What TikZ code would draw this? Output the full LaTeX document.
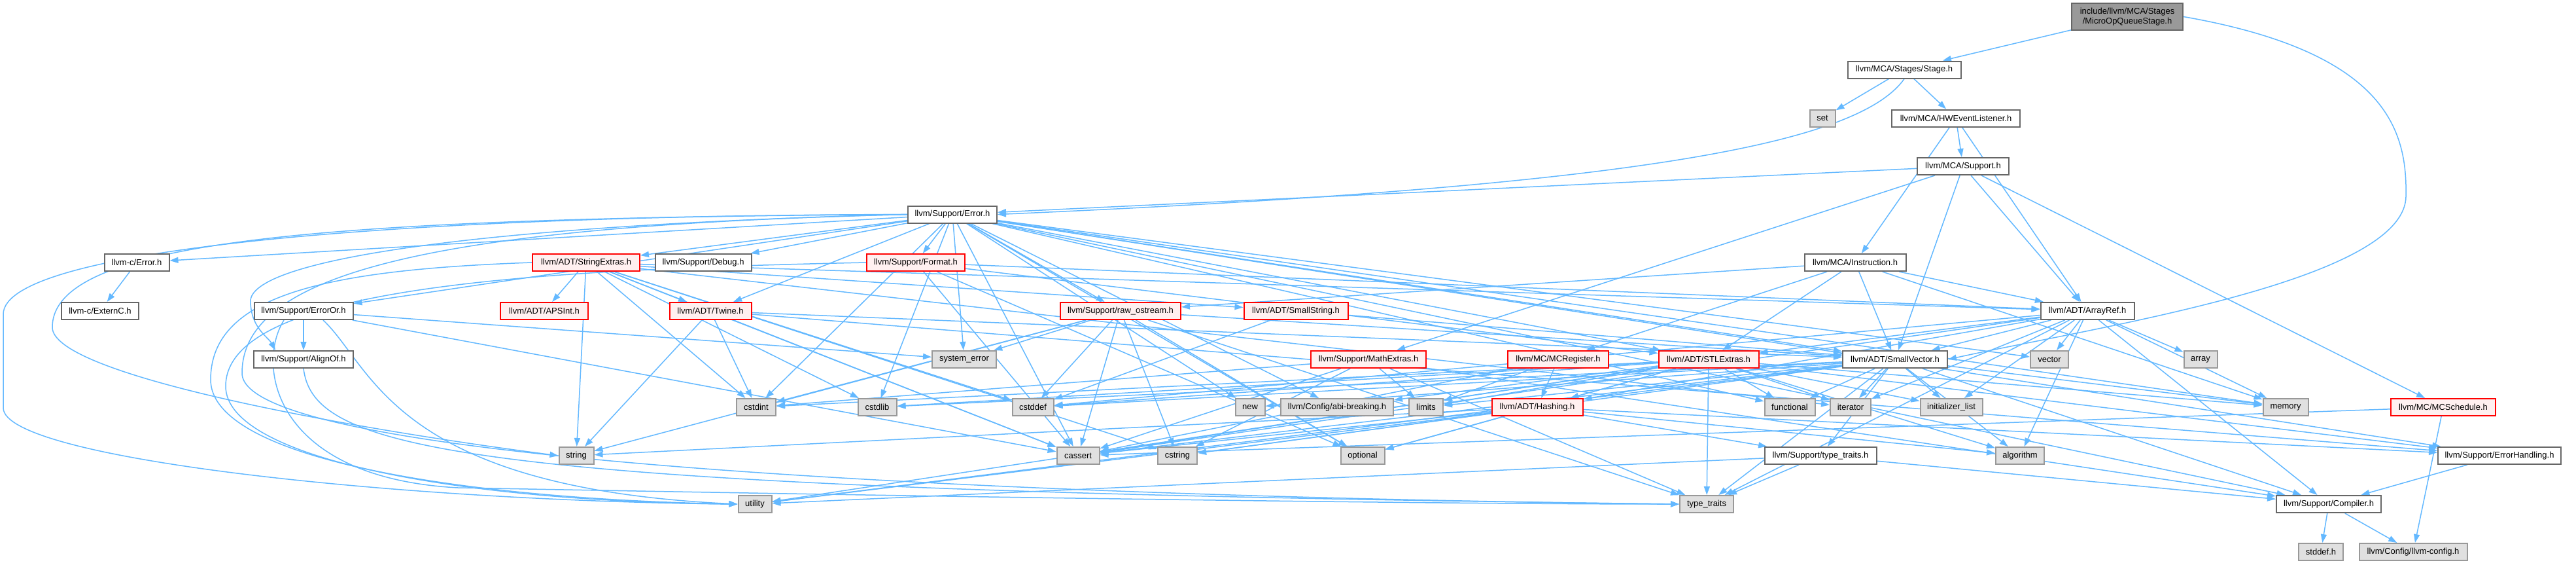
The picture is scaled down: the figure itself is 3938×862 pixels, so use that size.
\documentclass[tikz,border=0pt]{standalone}
\usepackage{fontspec}
\setmainfont{Liberation Sans}
\usetikzlibrary{arrows.meta,calc}
\definecolor{edgec}{HTML}{63B8FF}
\definecolor{nborder}{HTML}{666666}
\definecolor{extfill}{HTML}{E0E0E0}
\definecolor{extborder}{HTML}{999999}
\definecolor{redfill}{HTML}{FFF0F0}
\definecolor{rootfill}{HTML}{999999}
\pgfdeclarelayer{bg}
\pgfsetlayers{bg,main}
\tikzset{
 base/.style={draw, line width=1pt, inner sep=0pt, minimum height=13pt, font=\fontsize{6.5}{7.6}\selectfont, text=black},
 doc/.style={base, draw=nborder, fill=white},
 ext/.style={base, draw=extborder, fill=extfill},
 trunc/.style={base, draw=red, fill=redfill},
 rootn/.style={base, draw=nborder, fill=rootfill, minimum height=20.5pt, align=center},
 e/.style={draw=edgec, line width=0.75pt, -{Triangle[length=6.5pt,width=4.5pt]}},
}
\begin{document}
\begin{tikzpicture}[x=0.5pt,y=-0.5pt]
\useasboundingbox (0,0) rectangle (3938,862);
\node[rootn, minimum width=85pt] (root) at (3252,25.5) {include/llvm/MCA/Stages\\/MicroOpQueueStage.h};
\node[doc, minimum width=86.5pt] (stage) at (2911,106.5) {llvm/MCA/Stages/Stage.h};
\node[ext, minimum width=19.5pt] (set) at (2786,180.5) {set};
\node[doc, minimum width=98pt] (hwe) at (2990,180.5) {llvm/MCA/HWEventListener.h};
\node[doc, minimum width=70pt] (mcasup) at (3001,254) {llvm/MCA/Support.h};
\node[doc, minimum width=68pt] (err) at (1456,327.5) {llvm/Support/Error.h};
\node[doc, minimum width=49.5pt] (cerr) at (209,401) {llvm-c/Error.h};
\node[doc, minimum width=59pt] (cext) at (153,475) {llvm-c/ExternC.h};
\node[trunc, minimum width=82pt] (strx) at (896,401) {llvm/ADT/StringExtras.h};
\node[doc, minimum width=75.5pt] (erroror) at (464,475) {llvm/Support/ErrorOr.h};
\node[trunc, minimum width=67pt] (apsint) at (832,475) {llvm/ADT/APSInt.h};
\node[doc, minimum width=76pt] (alignof) at (464,549) {llvm/Support/AlignOf.h};
\node[ext, minimum width=26.5pt] (string) at (881,696) {string};
\node[doc, minimum width=73.5pt] (debug) at (1075,401) {llvm/Support/Debug.h};
\node[trunc, minimum width=75pt] (format) at (1400,401) {llvm/Support/Format.h};
\node[trunc, minimum width=62.5pt] (twine) at (1086,475) {llvm/ADT/Twine.h};
\node[trunc, minimum width=92pt] (rawos) at (1713,475) {llvm/Support/raw\_ostream.h};
\node[trunc, minimum width=79.5pt] (smallstr) at (1981,475) {llvm/ADT/SmallString.h};
\node[ext, minimum width=49pt] (syserr) at (1474,549) {system\_error};
\node[ext, minimum width=30pt] (cstdint) at (1156,622) {cstdint};
\node[ext, minimum width=29.5pt] (cstdlib) at (1341,622) {cstdlib};
\node[ext, minimum width=31.5pt] (cstddef) at (1579,622) {cstddef};
\node[ext, minimum width=22.5pt] (new) at (1911,622) {new};
\node[ext, minimum width=86pt] (abi) at (2044,622) {llvm/Config/abi-breaking.h};
\node[ext, minimum width=32.5pt] (cassert) at (1648,696) {cassert};
\node[ext, minimum width=30pt] (cstring) at (1800,696) {cstring};
\node[ext, minimum width=25.5pt] (utility) at (1154,770) {utility};
\node[doc, minimum width=77.5pt] (instr) at (2836,401) {llvm/MCA/Instruction.h};
\node[trunc, minimum width=88pt] (mathx) at (2092,549) {llvm/Support/MathExtras.h};
\node[trunc, minimum width=77pt] (mcreg) at (2382,549) {llvm/MC/MCRegister.h};
\node[trunc, minimum width=76.5pt] (stlx) at (2612,549) {llvm/ADT/STLExtras.h};
\node[doc, minimum width=80pt] (smallvec) at (2897,549) {llvm/ADT/SmallVector.h};
\node[ext, minimum width=26pt] (limits) at (2180,622) {limits};
\node[trunc, minimum width=69.5pt] (hashing) at (2350,622) {llvm/ADT/Hashing.h};
\node[ext, minimum width=38.5pt] (functional) at (2736,622) {functional};
\node[ext, minimum width=31pt] (iterator) at (2829,622) {iterator};
\node[ext, minimum width=47.5pt] (initlist) at (2983,622) {initializer\_list};
\node[ext, minimum width=33.5pt] (optional) at (2083,696) {optional};
\node[doc, minimum width=85.5pt] (tt) at (2783,696) {llvm/Support/type\_traits.h};
\node[ext, minimum width=41pt] (typetraits) at (2609,770) {type\_traits};
\node[doc, minimum width=71.5pt] (arrayref) at (3191,475) {llvm/ADT/ArrayRef.h};
\node[ext, minimum width=29pt] (vector) at (3133,549) {vector};
\node[ext, minimum width=25.5pt] (array) at (3364,549) {array};
\node[ext, minimum width=34.5pt] (memory) at (3494,622) {memory};
\node[trunc, minimum width=80pt] (mcsched) at (3735,622) {llvm/MC/MCSchedule.h};
\node[ext, minimum width=37pt] (algorithm) at (3088,696) {algorithm};
\node[doc, minimum width=94pt] (errh) at (3821,696) {llvm/Support/ErrorHandling.h};
\node[doc, minimum width=80pt] (compiler) at (3560,770) {llvm/Support/Compiler.h};
\node[ext, minimum width=34pt] (stddef) at (3548,843) {stddef.h};
\node[ext, minimum width=82.5pt] (llvmcfg) at (3689,843) {llvm/Config/llvm-config.h};

\begin{pgfonlayer}{bg}
% curved / routed edges
\draw[e] (root.east) .. controls (3650,80) and (3680,200) .. (3678,300) .. controls (3676,430) and (3200,500) .. (smallvec.east);
\draw[e] (stage.south) .. controls (2840,220) and (2500,285) .. (err.east);
\draw[e] (err.west) .. controls (600,329) and (5,380) .. (5,480) -- (5,623) .. controls (5,700) and (600,765) .. (utility.west);
\draw[e] (err.west) .. controls (500,333) and (80,365) .. (80,500) .. controls (80,570) and (500,650) .. (string.west);
\draw[e] (err.west) .. controls (700,345) and (383,400) .. (383,460) .. controls (383,500) and (410,515) .. ($(alignof.north)+(-43,0)$);
\draw[e] (err.west) .. controls (650,345) and (370,420) .. (370,570) .. controls (370,720) and (1800,762) .. (typetraits.west);
\draw[e] (strx.west) .. controls (500,412) and (322,450) .. (322,580) .. controls (322,700) and (700,762) .. (utility.west);
\draw[e] (format.west) .. controls (800,412) and (345,440) .. (345,590) .. controls (345,700) and (700,766) .. (utility.west);
\draw[e] (alignof.south) .. controls (480,690) and (700,748) .. (typetraits.west);
\draw[e] ($(erroror.south)+(-30,0)$) .. controls (390,560) and (420,730) .. (700,745) .. controls (1500,760) and (2200,770) .. (typetraits.west);
\draw[e] ($(erroror.south)+(30,0)$) .. controls (570,560) and (600,745) .. (utility.west);
% straight edges
\foreach \t in {stage} \draw[e] (root) -- (\t);
\foreach \t in {set,hwe} \draw[e] (stage) -- (\t);
\foreach \t in {instr,mcasup,arrayref} \draw[e] (hwe) -- (\t);
\foreach \t in {err,mathx,smallvec,arrayref,mcsched} \draw[e] (mcasup) -- (\t);
\foreach \t in {arrayref,stlx,smallvec,mcreg,rawos,memory} \draw[e] (instr) -- (\t);
\foreach \t in {cerr,stlx,smallvec,strx,twine,abi,compiler,debug,errh,erroror,format,rawos,cassert,cstdint,cstdlib,functional,memory,new,optional,syserr,vector} \draw[e] (err) -- (\t);
\draw[e] (cerr) -- (cext);
\foreach \t in {apsint,arrayref,smallstr,twine,cassert,cstddef,cstdint,cstdlib,cstring,iterator,string} \draw[e] (strx) -- (\t);
\foreach \t in {alignof,cassert,syserr} \draw[e] (erroror) -- (\t);
\foreach \t in {arrayref,stlx,cassert,optional} \draw[e] (format) -- (\t);
\foreach \t in {smallvec,errh,cassert,cstdint,string} \draw[e] (twine) -- (\t);
\foreach \t in {smallvec,cassert,cstddef,cstdint,cstring,optional,string,syserr,typetraits} \draw[e] (rawos) -- (\t);
\foreach \t in {smallvec,cstddef} \draw[e] (smallstr) -- (\t);
\foreach \t in {compiler,cassert,cstdint,cstring,limits,typetraits} \draw[e] (mathx) -- (\t);
\foreach \t in {hashing,cassert,limits} \draw[e] (mcreg) -- (\t);
\foreach \t in {hashing,abi,errh,algorithm,cassert,cstddef,cstdint,cstdlib,functional,initlist,iterator,limits,memory,optional,typetraits,utility} \draw[e] (stlx) -- (\t);
\foreach \t in {compiler,tt,algorithm,cassert,cstddef,cstdlib,cstring,functional,initlist,iterator,limits,memory,new,typetraits,utility} \draw[e] (smallvec) -- (\t);
\foreach \t in {hashing,stlx,smallvec,compiler,algorithm,array,cassert,cstddef,initlist,iterator,memory,typetraits,vector} \draw[e] (arrayref) -- (\t);
\foreach \t in {errh,tt,algorithm,cassert,cstring,optional,string,utility} \draw[e] (hashing) -- (\t);
\foreach \t in {compiler,typetraits,utility} \draw[e] (tt) -- (\t);
\foreach \t in {llvmcfg,cassert} \draw[e] (mcsched) -- (\t);
\draw[e] (errh) -- (compiler);
\foreach \t in {llvmcfg,stddef} \draw[e] (compiler) -- (\t);
\end{pgfonlayer}
\end{tikzpicture}
\end{document}
